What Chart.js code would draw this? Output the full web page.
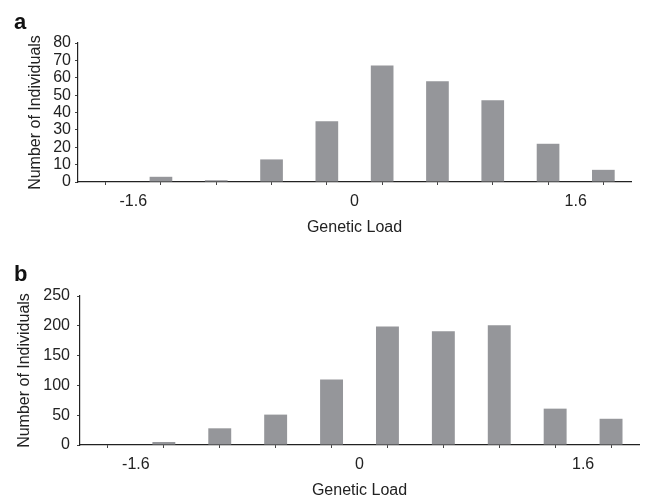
<!DOCTYPE html>
<html>
<head>
<meta charset="utf-8">
<script src="https://cdn.jsdelivr.net/npm/chart.js@4/dist/chart.umd.min.js"></script>
<style>
  html, body { margin: 0; padding: 0; background: #fff; width: 646px; height: 498px; overflow: hidden; }
  #wrap { position: relative; width: 646px; height: 498px; }
  canvas { position: absolute; left: 0; }
  .panel { position: absolute; left: 14px; font-family: 'Liberation Sans', Arial, sans-serif; font-weight: bold; font-size: 22px; line-height: 1; color: #111; }
</style>
</head>
<body>
<div id="wrap">
  <canvas id="ca" width="646" height="250" style="top:0px"></canvas>
  <canvas id="cb" width="646" height="250" style="top:250px"></canvas>
  <div class="panel" style="top:11px">a</div>
  <div class="panel" style="top:263px">b</div>
</div>
<script>
// Bin centres of the Genetic Load histogram (bins of width 0.4 from -2.0 to 2.0)
const binCenters = [-1.8, -1.4, -1.0, -0.6, -0.2, 0.2, 0.6, 1.0, 1.4, 1.8];
// Panel a counts
const countsA = [0, 3, 1, 13, 35, 67, 58, 47, 22, 7];
// Panel b counts
const countsB = [0, 5, 28, 51, 110, 199, 191, 201, 61, 44];
// X tick labels shown
const xTickLabels = ['-1.6', '0', '1.6'];
const yTitle = 'Number of Individuals';
const xTitle = 'Genetic Load';

const FONT = "'Liberation Sans', Arial, sans-serif";
const FS = 16;
const TXT = '#222';
const BAR = '#95969a';

function fmtX(v) {
  if (Math.abs(v) < 1e-9) return '0';
  return v.toFixed(1);
}

function makeChart(id, counts, cfg) {
  const data = binCenters.map((x, i) => ({ x: x, y: counts[i] }));
  return new Chart(document.getElementById(id), {
    type: 'bar',
    data: {
      datasets: [{
        data: data,
        backgroundColor: BAR,
        borderWidth: 0,
        barPercentage: 0.41,
        categoryPercentage: 1.0
      }]
    },
    options: {
      responsive: false,
      animation: false,
      devicePixelRatio: 1,
      layout: { padding: { top: cfg.padTop, right: cfg.padRight, left: 0, bottom: 0 } },
      plugins: { legend: { display: false }, tooltip: { enabled: false } },
      scales: {
        x: {
          type: 'linear',
          min: -2,
          max: 2,
          offset: false,
          afterFit: (s) => { s.height = cfg.xHeight; },
          border: { display: true, color: '#222', width: 1.2 },
          grid: { display: true, drawOnChartArea: false, drawTicks: true, tickLength: 3, color: '#444', tickColor: '#444' },
          ticks: {
            stepSize: 0.4,
            autoSkip: false,
            maxRotation: 0,
            padding: 7,
            color: TXT,
            font: { family: FONT, size: FS },
            callback: (v) => { const s = fmtX(v); return xTickLabels.includes(s) ? s : ''; }
          },
          title: { display: true, text: xTitle, color: TXT, font: { family: FONT, size: FS }, padding: { top: 0, bottom: cfg.xTitlePad } }
        },
        y: {
          min: 0,
          max: cfg.yMax,
          afterFit: (s) => { s.width = cfg.yWidth; },
          border: { display: true, color: '#222', width: 1.2 },
          grid: { display: true, drawOnChartArea: false, drawTicks: true, tickLength: 3, color: '#444', tickColor: '#444' },
          ticks: {
            stepSize: cfg.yStep,
            autoSkip: false,
            padding: cfg.yTickPad,
            color: TXT,
            font: { family: FONT, size: FS }
          },
          title: { display: true, text: yTitle, color: TXT, font: { family: FONT, size: FS }, padding: { top: cfg.yTitlePad, bottom: 0 } }
        }
      }
    }
  });
}

makeChart('ca', countsA, { padTop: 43, padRight: 15, xHeight: 68, xTitlePad: 13, yMax: 80, yStep: 10, yWidth: 78, yTickPad: 4, yTitlePad: 26 });
makeChart('cb', countsB, { padTop: 46, padRight: 3, xHeight: 55, xTitlePad: 0, yMax: 250, yStep: 50, yWidth: 80, yTickPad: 7, yTitlePad: 15 });
</script>
</body>
</html>
